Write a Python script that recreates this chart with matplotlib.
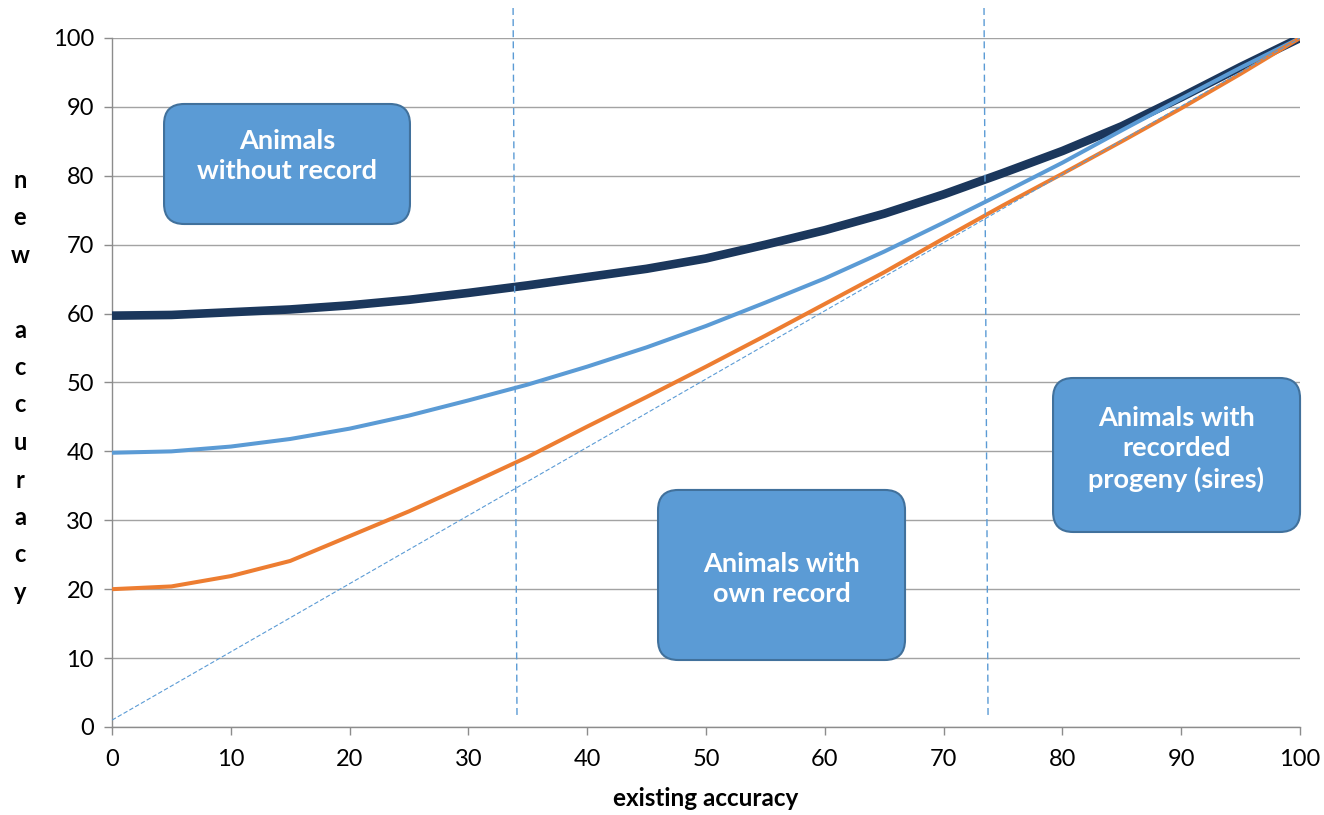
import matplotlib
matplotlib.use('Agg')
import matplotlib.pyplot as plt
from matplotlib.patches import FancyBboxPatch

# ---- data ----
existing_accuracy = [0, 5, 10, 15, 20, 25, 30, 35, 40, 45, 50,
                     55, 60, 65, 70, 75, 80, 85, 90, 95, 100]
new_acc_dark = [59.7, 59.8, 60.2, 60.6, 61.2, 62.0, 63.0, 64.1, 65.3, 66.5, 68.0,
                70.0, 72.1, 74.5, 77.3, 80.4, 83.6, 87.2, 91.4, 95.8, 100.0]
new_acc_light = [39.8, 40.0, 40.7, 41.8, 43.3, 45.2, 47.4, 49.7, 52.3, 55.1, 58.2,
                 61.6, 65.1, 69.0, 73.2, 77.5, 81.9, 86.6, 91.2, 95.7, 100.0]
new_acc_orange = [20.0, 20.4, 21.9, 24.1, 27.7, 31.3, 35.2, 39.2, 43.6, 47.9, 52.3,
                  56.8, 61.4, 66.0, 70.9, 75.7, 80.3, 85.0, 89.8, 94.8, 100.0]
diag_x = [0, 100]
diag_y = [1, 100]
boundary1_x = [33.76, 34.09]
boundary2_x = [73.40, 73.74]
boundary_y = [104.35, 1.3]

x_ticks = list(range(0, 101, 10))
y_ticks = list(range(0, 101, 10))

box_labels = ["Animals\nwithout record", "Animals with\nown record",
              "Animals with\nrecorded\nprogeny (sires)"]
box_extents = [(4.38, 73.0, 25.08, 90.42), (45.96, 9.72, 66.75, 34.40),
               (79.21, 28.30, 100.0, 50.65)]
box_text_pos = [(14.73, 82.9), (56.36, 21.5), (89.6, 40.35)]

plt.rcParams['font.family'] = ['Lato', 'DejaVu Sans']

fig = plt.figure(figsize=(13.24, 8.15), dpi=100)
ax = fig.add_axes([0.0846, 0.108, 0.8973, 0.8454])

ax.set_xlim(0, 100)
ax.set_ylim(0, 100)
ax.set_xticks(x_ticks)
ax.set_yticks(y_ticks)
ax.grid(axis='y', color='#a3a3a3', lw=1.0, zorder=0)
ax.set_axisbelow(True)
for s in ['top', 'right']:
    ax.spines[s].set_visible(False)
for s in ['left', 'bottom']:
    ax.spines[s].set_color('#8c8c8c')
    ax.spines[s].set_linewidth(1.0)
ax.tick_params(axis='both', which='major', length=6, width=1.0, color='#8c8c8c',
               labelsize=17, labelcolor='black', direction='out')
ax.tick_params(axis='x', pad=10)
ax.tick_params(axis='y', pad=7)

ax.plot(existing_accuracy, new_acc_dark, color='#1b375c', lw=6.2, zorder=3,
        solid_joinstyle='round', solid_capstyle='butt')
ax.plot(existing_accuracy, new_acc_light, color='#5b9bd5', lw=2.9, zorder=4,
        solid_joinstyle='round', solid_capstyle='butt')
ax.plot(existing_accuracy, new_acc_orange, color='#ed7d31', lw=2.9, zorder=5,
        solid_joinstyle='round', solid_capstyle='butt')
ax.plot(diag_x, diag_y, color='#5b9bd5', lw=0.8, dashes=(4, 2), zorder=6)
ax.plot(boundary1_x, boundary_y, color='#5b9bd5', lw=1.0, dashes=(5, 3),
        zorder=6, clip_on=False)
ax.plot(boundary2_x, boundary_y, color='#5b9bd5', lw=1.0, dashes=(5, 3),
        zorder=6, clip_on=False)

aspect = (1188 / 100) / (689 / 100)
for (x0, y0, x1, y1), label, (tx, ty) in zip(box_extents, box_labels, box_text_pos):
    p = FancyBboxPatch((x0, y0), x1 - x0, y1 - y0,
                       boxstyle="round,pad=0,rounding_size=1.7",
                       mutation_aspect=aspect,
                       facecolor='#5b9bd5', edgecolor='#41719c', lw=1.5,
                       zorder=8, clip_on=False)
    ax.add_patch(p)
    ax.text(tx, ty, label, color='white', fontsize=19.5, fontweight='bold',
            ha='center', va='center', linespacing=1.32, zorder=9)

ax.set_xlabel('existing accuracy', fontsize=17.5, fontweight='bold', labelpad=12)

ylabel = "new accuracy"
y_start = 1 - 180 / 815
step = 37.5 / 815
for i, ch in enumerate(ylabel):
    if ch == ' ':
        continue
    fig.text(20 / 1324, y_start - i * step, ch, fontsize=17, fontweight='bold',
             ha='center', va='center')

fig.savefig('out.png', dpi=100)
